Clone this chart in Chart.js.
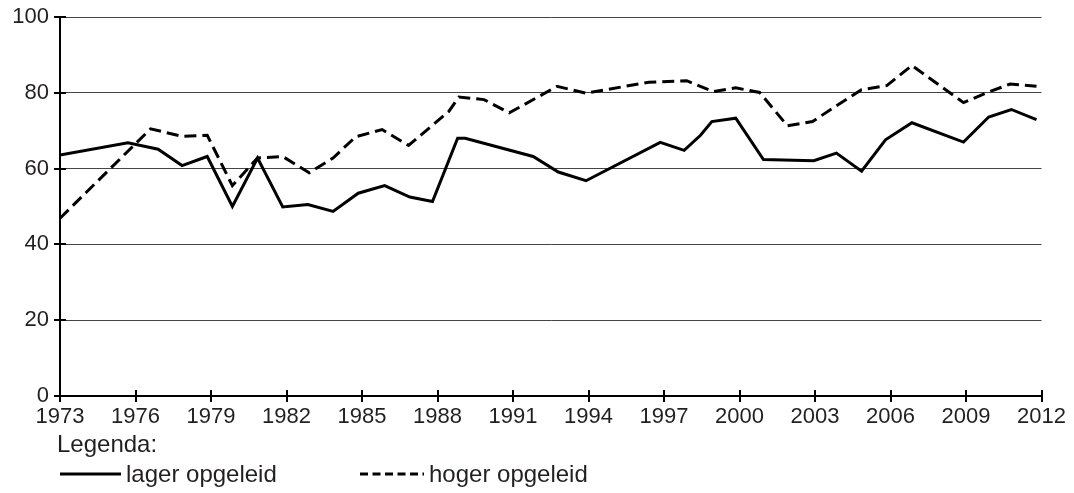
<!DOCTYPE html>
<html>
<head>
<meta charset="utf-8">
<script src="https://cdn.jsdelivr.net/npm/chart.js@4/dist/chart.umd.min.js"></script>
<style>
  html, body { margin: 0; padding: 0; background: #fff; }
  canvas { display: block; }
</style>
</head>
<body>
<canvas id="chart" width="1074" height="493"></canvas>
<script>
// lager opgeleid (solid)
const lowerYears  = [1973, 1975.7, 1976.9, 1977.85, 1978.85, 1979.85, 1980.85, 1981.85, 1982.85, 1983.85,
                     1984.85, 1985.9, 1986.9, 1987.8, 1988.8, 1989.1, 1991.8, 1992.8, 1993.9, 1996.85,
                     1997.8, 1998.45, 1998.9, 1999.85, 2000.95, 2002.95, 2003.85, 2004.85, 2005.8, 2006.85,
                     2008.9, 2009.9, 2010.8, 2011.8];
const lowerValues = [63.6, 66.8, 65.1, 60.8, 63.2, 50.0, 62.8, 49.9, 50.5, 48.7,
                     53.5, 55.5, 52.5, 51.3, 68.0, 68.0, 63.2, 59.1, 56.8, 66.9,
                     64.8, 68.8, 72.4, 73.3, 62.4, 62.1, 64.1, 59.3, 67.6, 72.1,
                     67.0, 73.6, 75.6, 72.9];

// hoger opgeleid (dashed)
const higherYears  = [1973, 1976.6, 1977.85, 1978.85, 1979.85, 1980.85, 1981.85, 1982.9, 1983.85, 1984.75,
                      1985.8, 1986.85, 1988.45, 1988.85, 1989.85, 1990.85, 1992.75, 1993.9, 1996.4, 1997.9,
                      1998.95, 1999.85, 2000.8, 2001.9, 2002.9, 2003.85, 2004.85, 2005.85, 2006.85, 2008.9,
                      2009.9, 2010.75, 2011.8];
const higherValues = [46.9, 70.5, 68.5, 68.8, 55.5, 62.8, 63.2, 58.9, 62.8, 68.4,
                      70.3, 66.1, 75.1, 78.9, 78.2, 74.7, 81.7, 79.9, 82.8, 83.2,
                      80.3, 81.3, 80.1, 71.3, 72.4, 76.6, 80.8, 81.9, 87.2, 77.4,
                      80.2, 82.3, 81.7];

const xTickLabels = [1973, 1976, 1979, 1982, 1985, 1988, 1991, 1994, 1997, 2000, 2003, 2006, 2009, 2012];
const yTickLabels = [0, 20, 40, 60, 80, 100];
const seriesNames = ["lager opgeleid", "hoger opgeleid"];

const FONT = '"Liberation Sans", Arial, sans-serif';

const toPoints = (xs, ys) => xs.map((x, i) => ({ x: x, y: ys[i] }));

// ticks that cross the axis lines
const crossTicks = {
  id: "crossTicks",
  afterDraw(chart) {
    const ctx = chart.ctx, a = chart.chartArea;
    const xs = chart.scales.x, ys = chart.scales.y;
    ctx.save();
    ctx.strokeStyle = "#000";
    ctx.lineWidth = 2;
    ctx.beginPath();
    xTickLabels.forEach(v => {
      const px = Math.round(xs.getPixelForValue(v));
      ctx.moveTo(px, a.bottom - 6);
      ctx.lineTo(px, a.bottom + 6);
    });
    yTickLabels.forEach(v => {
      const py = Math.round(ys.getPixelForValue(v));
      ctx.moveTo(a.left - 6, py);
      ctx.lineTo(a.left + 6, py);
    });
    ctx.stroke();
    ctx.restore();
  }
};

// "Legenda:" block under the axis
const legendBlock = {
  id: "legendBlock",
  afterDraw(chart) {
    const ctx = chart.ctx;
    ctx.save();
    ctx.fillStyle = "#231f20";
    ctx.font = "24px " + FONT;
    ctx.textBaseline = "middle";
    ctx.fillText("Legenda:", 57, 445);

    ctx.strokeStyle = "#000";
    ctx.lineWidth = 3;
    ctx.beginPath();
    ctx.moveTo(60, 474);
    ctx.lineTo(121, 474);
    ctx.stroke();
    ctx.fillText(seriesNames[0], 126, 475);

    ctx.setLineDash([8, 4.5]);
    ctx.beginPath();
    ctx.moveTo(360, 474);
    ctx.lineTo(424, 474);
    ctx.stroke();
    ctx.setLineDash([]);
    ctx.fillText(seriesNames[1], 429, 475);
    ctx.restore();
  }
};

new Chart(document.getElementById("chart"), {
  type: "line",
  data: {
    datasets: [
      { label: seriesNames[0], data: toPoints(lowerYears, lowerValues),
        borderColor: "#000", borderWidth: 3, pointRadius: 0, tension: 0, fill: false },
      { label: seriesNames[1], data: toPoints(higherYears, higherValues),
        borderColor: "#000", borderWidth: 3, borderDash: [12, 6], pointRadius: 0, tension: 0, fill: false }
    ]
  },
  options: {
    responsive: false,
    animation: false,
    layout: { padding: { top: 17, right: 32, bottom: 0, left: 0 } },
    plugins: { legend: { display: false }, tooltip: { enabled: false } },
    scales: {
      x: {
        type: "linear",
        min: 1973,
        max: 2012,
        afterBuildTicks: s => { s.ticks = xTickLabels.map(v => ({ value: v })); },
        afterFit: s => { s.height = 97; },
        grid: { display: false, drawTicks: false },
        border: { display: true, color: "#000", width: 2 },
        ticks: { color: "#231f20", font: { family: FONT, size: 22 }, padding: 8,
                 maxRotation: 0, autoSkip: false, callback: v => String(v) }
      },
      y: {
        min: 0,
        max: 100,
        afterBuildTicks: s => { s.ticks = yTickLabels.map(v => ({ value: v })); },
        afterFit: s => { s.width = 60; s.paddingTop = 0; s.paddingBottom = 0; },
        grid: { color: "#444", lineWidth: 1, drawTicks: false },
        border: { display: true, color: "#000", width: 2 },
        ticks: { color: "#231f20", font: { family: FONT, size: 22 }, padding: 11, callback: v => String(v) }
      }
    }
  },
  plugins: [crossTicks, legendBlock]
});
</script>
</body>
</html>
